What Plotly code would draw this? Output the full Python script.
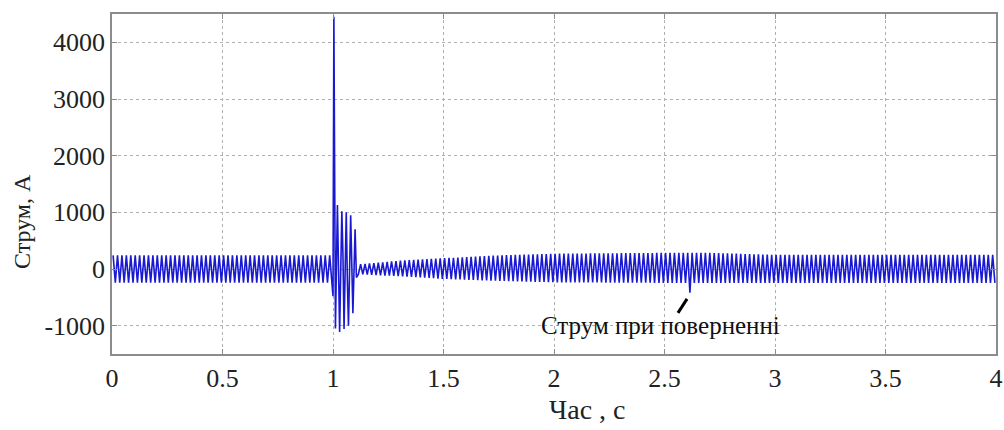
import numpy as np
import plotly.graph_objects as go

# ---- data ----
# envelope of the steady 50 Hz current (time, s / upper peak, A / lower peak, A)
env_t = [0.0, 0.99, 1.11, 1.2, 1.3, 1.5, 1.75, 2.0, 2.5, 2.7, 3.0, 3.5, 4.0]
env_upper = [240, 240, 80, 110, 145, 190, 240, 270, 285, 285, 250, 250, 250]
env_lower = [-240, -240, -90, -110, -125, -175, -210, -235, -245, -245, -245, -245, -245]
freq_hz = 50

# fault transient peaks (time, s / current, A)
fault_t = [1.000, 1.004, 1.011, 1.020, 1.025, 1.030, 1.040, 1.045, 1.050, 1.060,
           1.065, 1.070, 1.080, 1.085, 1.090, 1.100, 1.106]
fault_i = [-480, 4450, -1050, 1130, -300, -1110, 1020, 250, -1060, 1000,
           -200, -1000, 950, 150, -780, 700, -150]

# return current dip
return_t = 2.615
return_i = -420

x_ticks = [0, 0.5, 1, 1.5, 2, 2.5, 3, 3.5, 4]
x_tick_text = ["0", "0.5", "1", "1.5", "2", "2.5", "3", "3.5", "4"]
y_ticks = [-1000, 0, 1000, 2000, 3000, 4000]
y_tick_text = ["-1000", "0", "1000", "2000", "3000", "4000"]

annot_text = "Струм при поверненні"
x_title = "Час , с"
y_title = "Струм, А"

# ---- build the trace: half-cycle peaks alternating between envelopes ----
half = 0.5 / freq_hz
peak_t = np.arange(half / 2, 4.0, half)
up = np.interp(peak_t, env_t, env_upper)
lo = np.interp(peak_t, env_t, env_lower)
vals = np.where(np.arange(len(peak_t)) % 2 == 0, up, lo)
mask = (peak_t < fault_t[0]) | (peak_t > fault_t[-1])
t_all = np.concatenate([peak_t[mask], fault_t])
v_all = np.concatenate([vals[mask], fault_i])
order = np.argsort(t_all, kind="stable")
t_all, v_all = t_all[order], v_all[order]
# return dip on the nearest negative peak
neg_idx = np.where(v_all < 0)[0]
k = neg_idx[np.argmin(np.abs(t_all[neg_idx] - return_t))]
v_all[k] = return_i

font_fam = "Liberation Serif, Times New Roman, serif"

# figure geometry (body margin removed in post_script)
W, H = 1004, 430
ML, MR, MT, MB = 112, 8, 14, 76
PW, PH = W - ML - MR, H - MT - MB

fig = go.Figure()
fig.add_trace(go.Scatter(x=t_all, y=v_all, mode="lines",
                         line=dict(color="rgb(25,25,210)", width=1.6),
                         hoverinfo="skip", showlegend=False))

fig.add_shape(type="line", xref="x", yref="y",
              x0=2.561, y0=-775, x1=2.602, y1=-528,
              line=dict(color="black", width=3))
fig.add_annotation(x=2.48, y=-990, xref="x", yref="y", text=annot_text,
                   showarrow=False, font=dict(family=font_fam, size=25, color="#111"),
                   xanchor="center", yanchor="middle")

# axis titles placed as in the reference
fig.add_annotation(xref="paper", yref="paper",
                   x=(22 - ML) / PW, y=1 - (222 - MT) / PH,
                   text=y_title, textangle=-90, showarrow=False,
                   font=dict(family=font_fam, size=24, color="#222"),
                   xanchor="center", yanchor="middle")
fig.add_annotation(xref="paper", yref="paper",
                   x=(587 - ML) / PW, y=1 - (409 - MT) / PH,
                   text=x_title, showarrow=False,
                   font=dict(family=font_fam, size=28, color="#222"),
                   xanchor="center", yanchor="middle")

axis_common = dict(showline=True, linecolor="#8c8c8c", linewidth=1.5, mirror="ticks",
                   ticks="inside", ticklen=5, tickcolor="#8c8c8c",
                   showgrid=True, gridcolor="#b0b0b0", griddash="dot", gridwidth=1,
                   zeroline=False, tickfont=dict(family=font_fam, size=26, color="#222"))

fig.update_xaxes(range=[0, 4], tickvals=x_ticks, ticktext=x_tick_text, **axis_common)
fig.update_yaxes(range=[-1500, 4500], tickvals=y_ticks, ticktext=y_tick_text, **axis_common)

fig.update_layout(width=W, height=H,
                  margin=dict(l=ML, r=MR, t=MT, b=MB, autoexpand=False),
                  paper_bgcolor="white", plot_bgcolor="white")

fig.write_html("out.html", config={"displayModeBar": False},
               post_script="document.body.style.margin='0';document.body.style.overflow='hidden';")
